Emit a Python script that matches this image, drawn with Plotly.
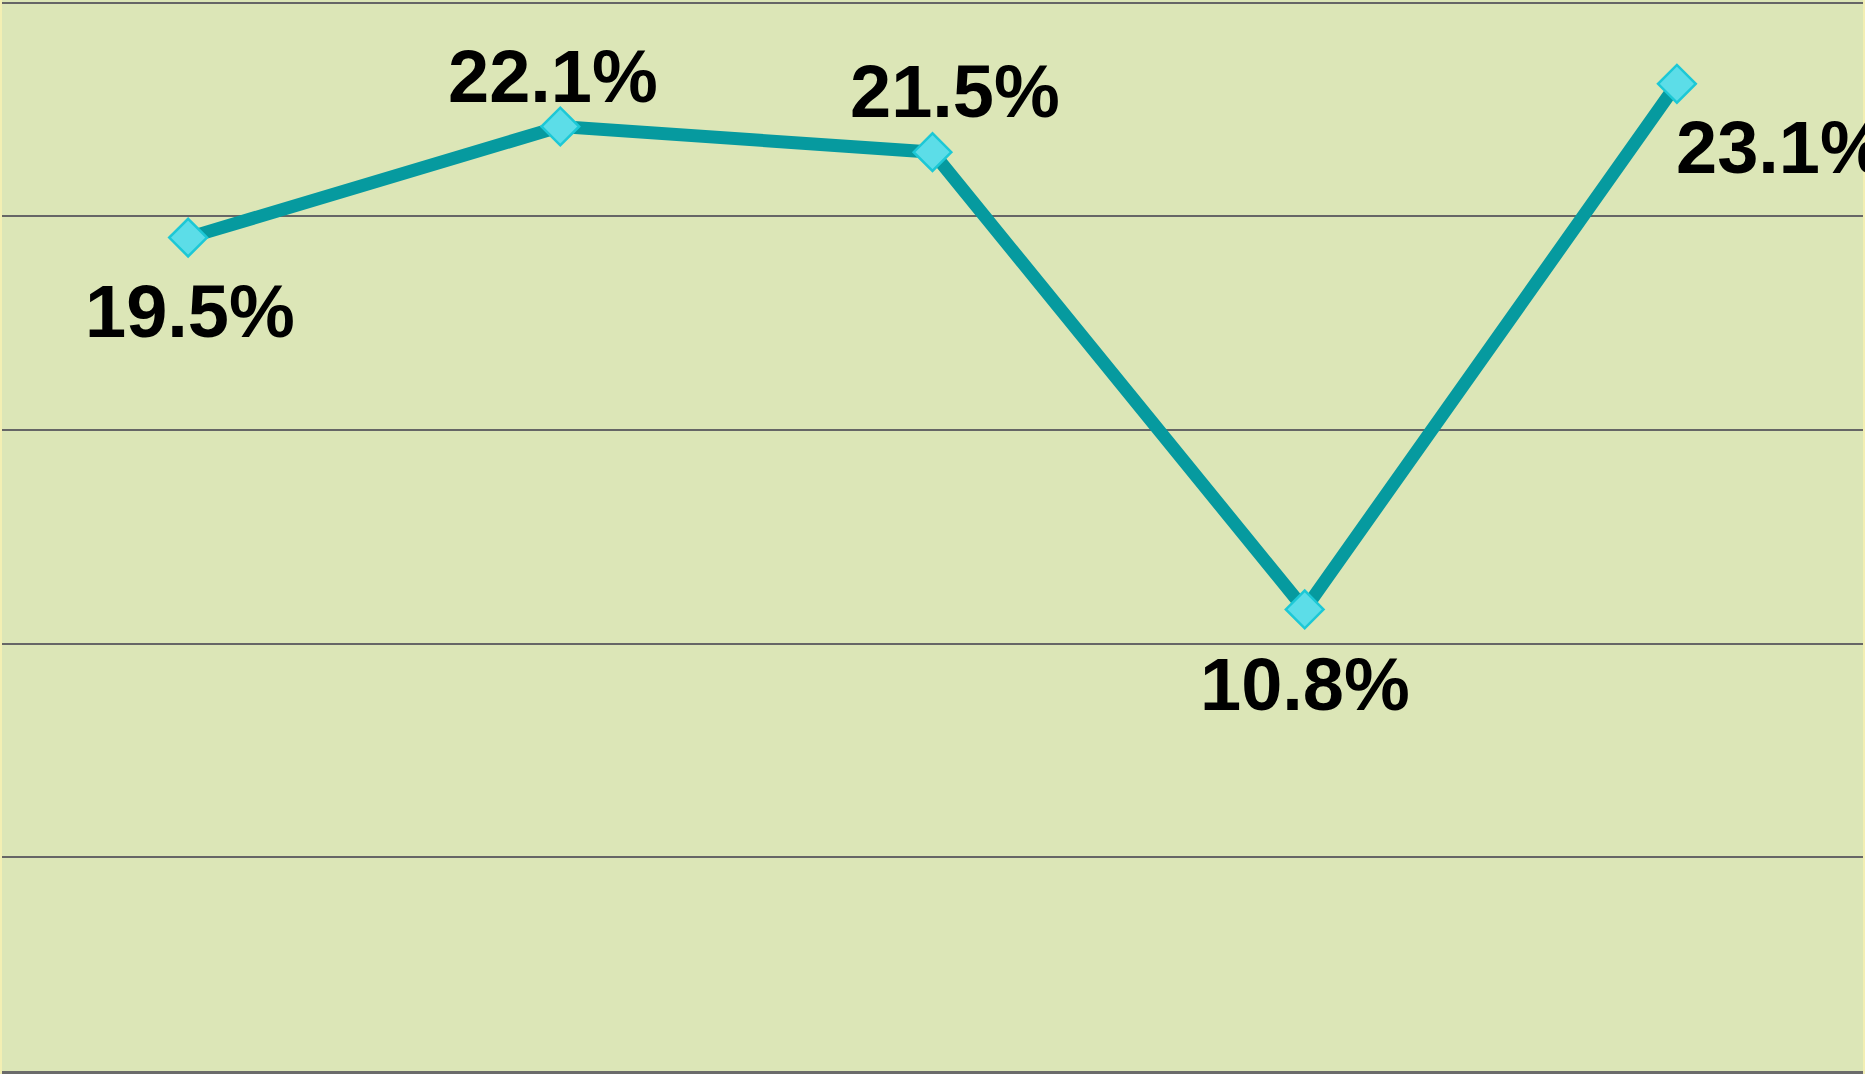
import plotly.graph_objects as go

categories = ["A", "B", "C", "D", "E"]
values = [19.5, 22.1, 21.5, 10.8, 23.1]
labels = ["19.5%", "22.1%", "21.5%", "10.8%", "23.1%"]
label_xshift = [2, -7, 22, 0, 104]
label_yshift = [-74, 50, 61, -75, -64]

fig = go.Figure()
fig.add_trace(go.Scatter(
    x=categories, y=values, mode="lines+markers",
    line=dict(color="#069A9F", width=13),
    marker=dict(symbol="diamond", size=29, color="#5CDDE8",
                line=dict(color="#1CC8D6", width=2.5)),
    cliponaxis=False, showlegend=False, hoverinfo="skip",
))

for c, v, t, dx, dy in zip(categories, values, labels, label_xshift, label_yshift):
    fig.add_annotation(x=c, y=v, text=f"<b>{t}</b>", showarrow=False,
                       xshift=dx, yshift=dy, xanchor="center", yanchor="middle",
                       font=dict(family="Liberation Sans, Arial, sans-serif", size=74, color="#000000"))

fig.update_layout(
    width=1865, height=1074,
    margin=dict(l=2, r=2, t=0, b=3, pad=0),
    paper_bgcolor="#F3EFB3",
    plot_bgcolor="#DCE6B7",
    showlegend=False,
)
fig.update_xaxes(type="category", showticklabels=False, showgrid=False,
                 tickson="boundaries", ticks="outside", ticklen=4, tickcolor="#666666", tickwidth=2,
                 showline=True, linecolor="#6B6B6B", linewidth=3, zeroline=False,
                 range=[-0.5, 4.5])
fig.update_yaxes(range=[0, 25.06], tickvals=[5, 10, 15, 20, 25], showticklabels=False, showgrid=True,
                 gridcolor="#666666", gridwidth=2, zeroline=False, showline=False)

fig.write_html("out.html", config={"displayModeBar": False},
               post_script="document.body.style.margin='0px';document.body.style.overflow='hidden';")
